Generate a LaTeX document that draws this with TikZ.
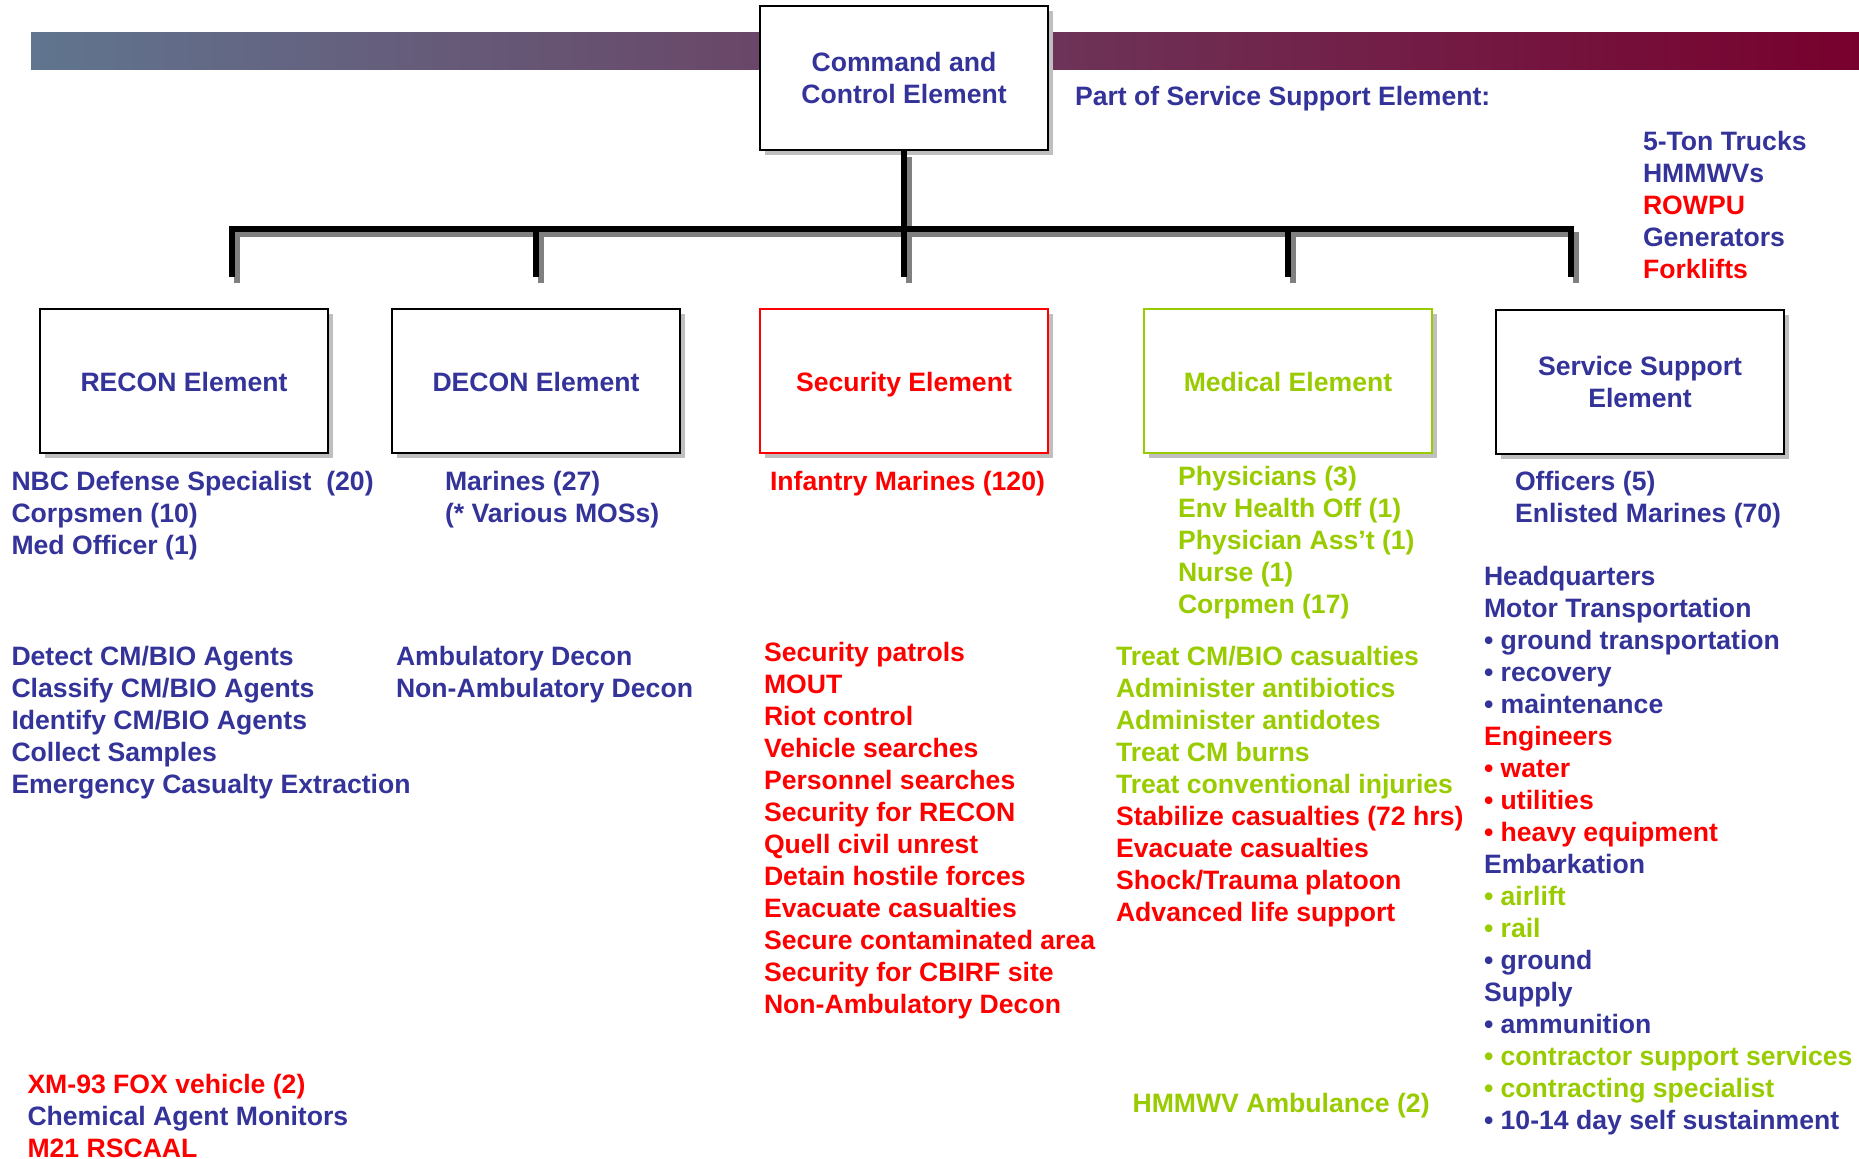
\documentclass[tikz,border=0pt]{standalone}
\usepackage{fontspec}
\setmainfont{Liberation Sans}
\usetikzlibrary{shadows}
\definecolor{navy}{RGB}{51,51,153}
\definecolor{myred}{RGB}{255,0,0}
\definecolor{mygreen}{RGB}{153,204,0}
\definecolor{banL}{RGB}{96,117,143}
\definecolor{banM}{RGB}{106,88,115}
\definecolor{banR}{RGB}{120,0,45}
\begin{document}
\begin{tikzpicture}[x=0.5pt,y=-0.5pt,
  every node/.style={font=\fontsize{13.3}{16}\selectfont\bfseries},
  item/.style={anchor=base west, inner sep=0pt, outer sep=0pt},
  elbox/.style={draw=black, line width=1.1pt, fill=white, minimum width=144pt, minimum height=72pt,
    inner sep=0pt, align=center,
    general shadow={fill=black!25, shadow xshift=2.5pt, shadow yshift=-2.5pt}},
  oneline/.style={text height=11pt, text depth=0pt},
  conn/.style={line width=2.8pt, line cap=butt, line join=miter},
]
\useasboundingbox (0,0) rectangle (1859,1159);
\fill[white] (0,0) rectangle (1859,1159);
% banner
\shade[left color=banL, middle color=banM, right color=banR] (31,33) rectangle (1859,70);

% element boxes
\node[elbox, text=navy] (cc) at (904,78) {Command and\\Control Element};
\node[elbox, oneline, text=navy] (recon) at (184,381) {RECON Element};
\node[elbox, oneline, text=navy] (decon) at (536,381) {DECON Element};
\node[elbox, oneline, draw=myred, text=myred] (sec) at (904,381) {Security Element};
\node[elbox, oneline, draw=mygreen, text=mygreen] (med) at (1288,381) {Medical Element};
\node[elbox, text=navy] (sse) at (1640,382) {Service Support\\Element};

% connector coordinates
\coordinate (hub) at (904,229);
\coordinate (b1) at (232,277);
\coordinate (b2) at (536,277);
\coordinate (b3) at (904,277);
\coordinate (b4) at (1288,277);
\coordinate (b5) at (1571,277);

% connector shadows
\begin{scope}[transform canvas={shift={(2.6pt,-2.8pt)}}]
  \draw[conn, black!50] (cc.south) -- (b3);
  \draw[conn, black!50] (b1) |- (hub) -| (b5);
  \draw[conn, black!50] (b2) -- (b2|-hub);
  \draw[conn, black!50] (b4) -- (b4|-hub);
\end{scope}
% connectors
\draw[conn] (cc.south) -- (b3);
\draw[conn] (b1) |- (hub) -| (b5);
\draw[conn] (b2) -- (b2|-hub);
\draw[conn] (b4) -- (b4|-hub);

% top right
\node[item, text=navy] (part) at (1075,106) {Part of Service Support Element:};
\foreach \cl/\txt [count=\i from 0] in {navy/5-Ton Trucks, navy/HMMWVs, myred/ROWPU, navy/Generators, myred/Forklifts}
  \node[item, text=\cl] (veh\i) at (1643, 151+32*\i) {\txt};

% personnel
\foreach \txt [count=\i from 0] in {NBC Defense Specialist~~(20), Corpsmen (10), Med Officer (1)}
  \node[item, text=navy] (rp\i) at (11.5, 490.4+32*\i) {\txt};
\foreach \txt [count=\i from 0] in {Marines (27), (* Various MOSs)}
  \node[item, text=navy] (dp\i) at (445, 490.4+32*\i) {\txt};
\node[item, text=myred] (sp0) at (770,490.4) {Infantry Marines (120)};
\foreach \txt [count=\i from 0] in {Physicians (3), Env Health Off (1), Physician Ass’t (1), Nurse (1), Corpmen (17)}
  \node[item, text=mygreen] (mp\i) at (1178, 486+32*\i) {\txt};
\foreach \txt [count=\i from 0] in {Officers (5), Enlisted Marines (70)}
  \node[item, text=navy] (ssp\i) at (1515, 490.4+32*\i) {\txt};

% tasks
\foreach \txt [count=\i from 0] in {Detect CM/BIO Agents, Classify CM/BIO Agents, Identify CM/BIO Agents, Collect Samples, Emergency Casualty Extraction}
  \node[item, text=navy] (rt\i) at (11.5, 665.8+32*\i) {\txt};
\foreach \txt [count=\i from 0] in {Ambulatory Decon, Non-Ambulatory Decon}
  \node[item, text=navy] (dt\i) at (396, 665.8+32*\i) {\txt};
\foreach \txt [count=\i from 0] in {Security patrols, MOUT, Riot control, Vehicle searches, Personnel searches, Security for RECON, Quell civil unrest, Detain hostile forces, Evacuate casualties, Secure contaminated area, Security for CBIRF site, Non-Ambulatory Decon}
  \node[item, text=myred] (st\i) at (764, 662+32*\i) {\txt};
\foreach \cl/\txt [count=\i from 0] in {mygreen/{Treat CM/BIO casualties}, mygreen/{Administer antibiotics}, mygreen/{Administer antidotes}, mygreen/{Treat CM burns}, mygreen/{Treat conventional injuries}, myred/{Stabilize casualties (72 hrs)}, myred/{Evacuate casualties}, myred/{Shock/Trauma platoon}, myred/{Advanced life support}}
  \node[item, text=\cl] (mt\i) at (1116, 665.8+32*\i) {\txt};
\foreach \cl/\txt [count=\i from 0] in {navy/{Headquarters}, navy/{Motor Transportation}, navy/{• ground transportation}, navy/{• recovery}, navy/{• maintenance}, myred/{Engineers}, myred/{• water}, myred/{• utilities}, myred/{• heavy equipment}, navy/{Embarkation}, mygreen/{• airlift}, mygreen/{• rail}, navy/{• ground}, navy/{Supply}, navy/{• ammunition}, mygreen/{• contractor support services}, mygreen/{• contracting specialist}, navy/{• 10-14 day self sustainment}}
  \node[item, text=\cl] (sst\i) at (1484, 585.9+32*\i) {\txt};

% equipment
\foreach \cl/\txt [count=\i from 0] in {myred/{XM-93 FOX vehicle (2)}, navy/{Chemical Agent Monitors}, myred/{M21 RSCAAL}}
  \node[item, text=\cl] (re\i) at (27.5, 1093.5+32*\i) {\txt};
\node[item, text=mygreen] (amb) at (1132.6,1112.6) {HMMWV Ambulance (2)};
\end{tikzpicture}
\end{document}
